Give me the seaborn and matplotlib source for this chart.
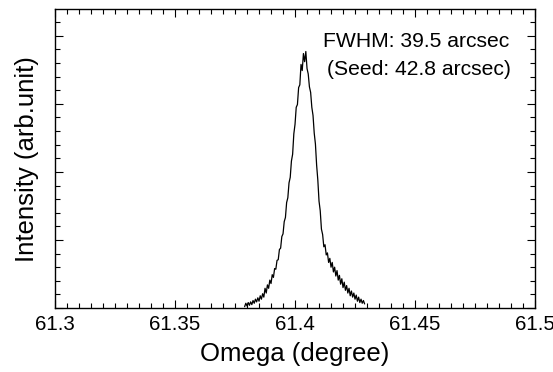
import numpy as np
import pandas as pd
import matplotlib
matplotlib.use("Agg")
import matplotlib.pyplot as plt
import seaborn as sns
from matplotlib.ticker import MultipleLocator, NullFormatter

# omega scan (degree, arb. unit)
omega = [
    61.3790, 61.3795, 61.3800, 61.3805, 61.3810, 61.3815, 61.3820, 61.3825, 61.3830, 61.3835,
    61.3840, 61.3845, 61.3850, 61.3855, 61.3860, 61.3865, 61.3870, 61.3875, 61.3880, 61.3885,
    61.3890, 61.3895, 61.3900, 61.3905, 61.3910, 61.3915, 61.3920, 61.3925, 61.3930, 61.3935,
    61.3940, 61.3945, 61.3950, 61.3955, 61.3960, 61.3965, 61.3970, 61.3975, 61.3980, 61.3985,
    61.3990, 61.3995, 61.4000, 61.4005, 61.4010, 61.4015, 61.4020, 61.4025, 61.4030, 61.4035,
    61.4040, 61.4045, 61.4050, 61.4055, 61.4060, 61.4065, 61.4070, 61.4075, 61.4080, 61.4085,
    61.4090, 61.4095, 61.4100, 61.4105, 61.4110, 61.4115, 61.4120, 61.4125, 61.4130, 61.4135,
    61.4140, 61.4145, 61.4150, 61.4155, 61.4160, 61.4165, 61.4170, 61.4175, 61.4180, 61.4185,
    61.4190, 61.4195, 61.4200, 61.4205, 61.4210, 61.4215, 61.4220, 61.4225, 61.4230, 61.4235,
    61.4240, 61.4245, 61.4250, 61.4255, 61.4260, 61.4265, 61.4270, 61.4275, 61.4280, 61.4285,
    61.4290,
]
intensity = [
    0.02, 0.07, 0.03, 0.08, 0.04, 0.09, 0.05, 0.11, 0.07, 0.13,
    0.09, 0.15, 0.10, 0.18, 0.13, 0.21, 0.16, 0.29, 0.22, 0.34,
    0.29, 0.41, 0.36, 0.49, 0.45, 0.58, 0.57, 0.70, 0.71, 0.86,
    0.88, 1.05, 1.09, 1.27, 1.33, 1.55, 1.62, 1.84, 1.92, 2.16,
    2.26, 2.56, 2.70, 2.95, 2.99, 3.24, 3.28, 3.58, 3.49, 3.74,
    3.62, 3.77, 3.52, 3.44, 3.25, 3.17, 2.95, 2.83, 2.57, 2.41,
    2.10, 1.88, 1.57, 1.43, 1.16, 1.08, 0.90, 0.93, 0.78, 0.81,
    0.67, 0.73, 0.60, 0.67, 0.53, 0.60, 0.47, 0.55, 0.41, 0.48,
    0.35, 0.43, 0.30, 0.38, 0.26, 0.33, 0.22, 0.29, 0.18, 0.25,
    0.16, 0.22, 0.13, 0.19, 0.10, 0.16, 0.08, 0.13, 0.07, 0.11,
    0.06,
]
x_ticks = [61.3, 61.35, 61.4, 61.45, 61.5]
x_tick_labels = ["61.3", "61.35", "61.4", "61.45", "61.5"]
fwhm_text = "FWHM: 39.5 arcsec"
seed_text = "(Seed: 42.8 arcsec)"

df = pd.DataFrame({"omega": omega, "intensity": intensity})

sns.set_style("ticks")
plt.rcParams["font.family"] = ["Liberation Sans", "DejaVu Sans"]
plt.rcParams["text.color"] = "black"
plt.rcParams["axes.labelcolor"] = "black"
plt.rcParams["xtick.color"] = "black"
plt.rcParams["ytick.color"] = "black"

fig = plt.figure(figsize=(5.53, 3.72), dpi=100)
ax = fig.add_axes([0.0995, 0.172, 0.868, 0.803])

sns.lineplot(data=df, x="omega", y="intensity", color="black", lw=0.9,
             estimator=None, sort=False, ax=ax)

ax.set_xlim(61.3, 61.5)
ax.set_ylim(0, 4.39)
ax.set_xticks(x_ticks)
ax.set_xticklabels(x_tick_labels)
ax.xaxis.set_minor_locator(MultipleLocator(0.005))
ax.yaxis.set_major_locator(MultipleLocator(1))
ax.yaxis.set_minor_locator(MultipleLocator(0.2))
ax.yaxis.set_major_formatter(NullFormatter())

ax.tick_params(which="both", direction="in", top=True, right=True,
               color="black", width=0.8)
ax.tick_params(which="major", length=6)
ax.tick_params(which="minor", length=3.5)
ax.tick_params(axis="x", labelsize=14.8, pad=5, labelcolor="black")
for side in ax.spines.values():
    side.set_linewidth(1.0)
    side.set_color("black")

ax.set_xlabel("Omega (degree)", fontsize=18.5, labelpad=5.5, color="black")
ax.set_ylabel("Intensity (arb.unit)", fontsize=18.5, labelpad=8, color="black")

ax.text(0.558, 0.874, fwhm_text, transform=ax.transAxes, fontsize=15.2,
        va="baseline", ha="left", color="black")
ax.text(0.567, 0.780, seed_text, transform=ax.transAxes, fontsize=15.2,
        va="baseline", ha="left", color="black")

fig.savefig("out.png", dpi=100)
